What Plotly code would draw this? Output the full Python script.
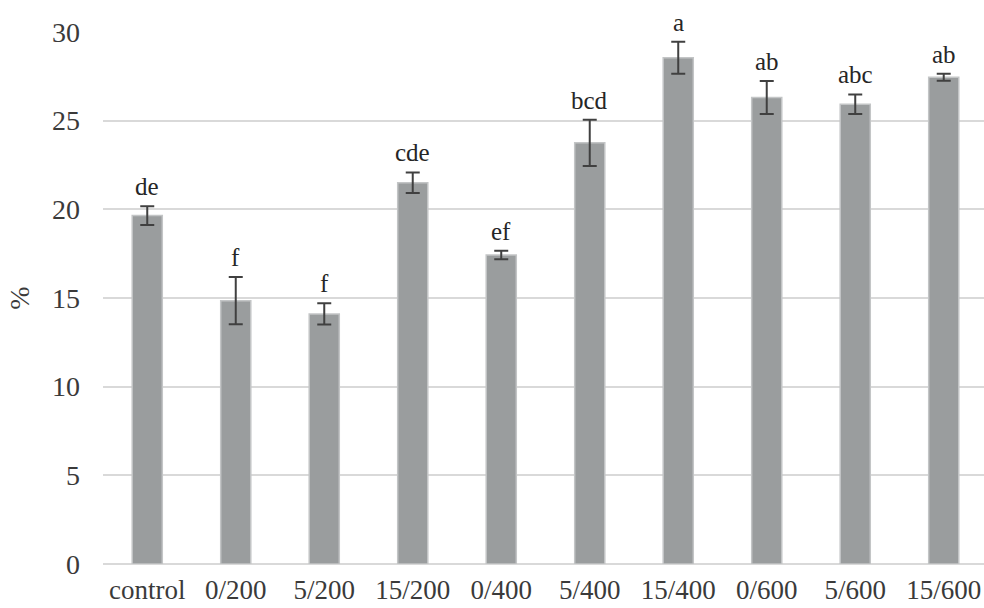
import plotly.graph_objects as go

categories = ["control", "0/200", "5/200", "15/200", "0/400", "5/400", "15/400", "0/600", "5/600", "15/600"]
values = [19.65, 14.85, 14.1, 21.5, 17.43, 23.75, 28.55, 26.3, 25.93, 27.45]
errors = [0.53, 1.33, 0.6, 0.58, 0.24, 1.3, 0.9, 0.93, 0.55, 0.2]
letters = ["de", "f", "f", "cde", "ef", "bcd", "a", "ab", "abc", "ab"]
y_ticks = [0, 5, 10, 15, 20, 25, 30]

fig = go.Figure()
fig.add_trace(go.Bar(
    x=categories, y=values,
    marker=dict(color="#9a9d9e", line=dict(color="#c3c5c6", width=1.5)),
    width=0.34,
    error_y=dict(type="data", array=errors, visible=True, color="#404040", thickness=2, width=7),
))

for c, v, e, l in zip(categories, values, errors, letters):
    fig.add_annotation(x=c, y=v + e, text=l, showarrow=False, yanchor="bottom", yshift=4,
                       font=dict(family="Liberation Serif", size=25, color="#262626"))

fig.update_layout(
    width=984, height=608,
    margin=dict(l=103, r=0, t=32, b=44, autoexpand=False),
    plot_bgcolor="white", paper_bgcolor="white",
    showlegend=False,
    bargap=0.66,
    font=dict(family="Liberation Serif", size=28, color="#3a3a3a"),
)
fig.update_xaxes(range=[-0.5, 9.455], showgrid=False, ticks="", ticklabelstandoff=7, automargin=False,
                 tickfont=dict(size=27, color="#3a3a3a"), showline=False)
fig.update_yaxes(range=[0, 30], tickvals=y_ticks, showgrid=True, gridcolor="#d9d9d9", gridwidth=1.5,
                 zeroline=True, zerolinecolor="#d9d9d9", zerolinewidth=1.5, automargin=False,
                 ticks="", ticklabelstandoff=22, tickfont=dict(size=28, color="#3a3a3a"),
                 title=dict(text="%", standoff=14, font=dict(size=28, color="#3a3a3a")))

fig.write_html("out.html", config={"displayModeBar": False},
               post_script="document.body.style.margin='0';document.body.style.overflow='hidden';")
